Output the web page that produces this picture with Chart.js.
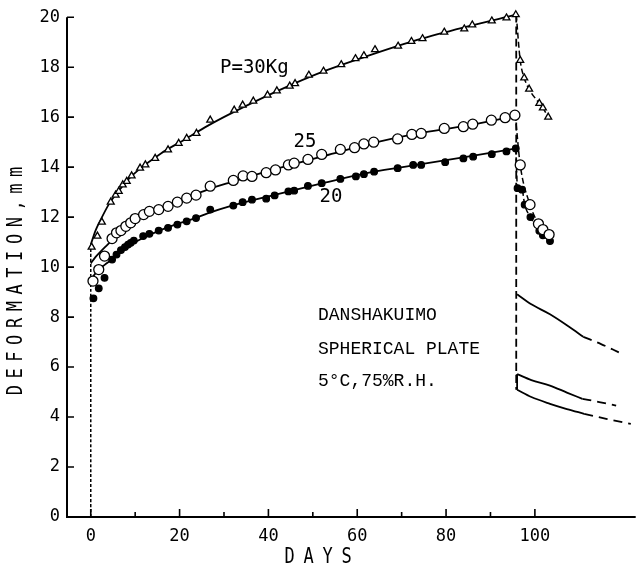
<!DOCTYPE html>
<html><head><meta charset="utf-8">
<script src="https://cdn.jsdelivr.net/npm/chart.js@4.4.1/dist/chart.umd.min.js"></script>
<style>html,body{margin:0;padding:0;background:#fff;}#wrap{width:642px;height:577px;}</style>
</head><body><div id="wrap"><canvas id="c" width="642" height="577"></canvas></div>
<script>
// ---- axis ticks / titles ----
const xTicks = [0, 20, 40, 60, 80, 100];
const xMinorTicks = [10, 30, 50, 70, 90];
const yTicks = [0, 2, 4, 6, 8, 10, 12, 14, 16, 18, 20];
const xTitle = 'DAYS';
const yTitle = 'DEFORMATION,mm';

// ---- P = 30 kg (open triangles) ----
const days30 = [0.2,1.5,2.5,4.5,5.6,6.3,7.2,8.1,9.2,11.1,12.3,14.5,17.4,19.8,21.6,23.8,26.9,32.3,34.2,36.6,39.8,41.9,44.8,46.0,49.1,52.4,56.4,59.6,61.5,64.0,69.2,72.2,74.7,79.6,84.1,85.9,90.3,93.6,95.7];
const def30  = [10.8,11.24,11.8,12.6,12.88,13.03,13.29,13.43,13.65,13.96,14.09,14.35,14.69,14.95,15.15,15.35,15.88,16.28,16.48,16.64,16.88,17.05,17.24,17.34,17.68,17.84,18.1,18.34,18.46,18.7,18.84,19.03,19.14,19.4,19.53,19.69,19.85,19.97,20.1];
const recDays30 = [96.7,97.6,98.7,101.0,101.8,103.0];
const recDef30  = [18.27,17.57,17.12,16.55,16.37,16.0];

// ---- P = 25 kg (open circles) ----
const days25 = [0.5,1.8,3.1,4.8,5.8,6.8,7.9,9.0,10.0,11.9,13.2,15.3,17.4,19.5,21.6,23.7,26.9,32.1,34.3,36.3,39.5,41.6,44.5,45.8,48.9,52.0,56.2,59.4,61.5,63.7,69.1,72.3,74.4,79.6,83.9,86.0,90.2,93.3,95.5];
const def25  = [9.44,9.9,10.44,11.14,11.37,11.46,11.63,11.77,11.94,12.1,12.23,12.3,12.43,12.6,12.76,12.88,13.24,13.47,13.65,13.63,13.78,13.89,14.09,14.16,14.31,14.51,14.71,14.78,14.93,15.0,15.13,15.31,15.35,15.55,15.62,15.72,15.88,15.98,16.08];
const recDays25 = [96.7,98.9,100.8,101.8,103.2];
const recDef25  = [14.09,12.5,11.73,11.5,11.3];

// ---- P = 20 kg (filled circles) ----
const days20 = [0.6,1.8,3.1,4.8,5.8,6.8,7.7,8.4,9.0,9.7,11.8,13.2,15.3,17.4,19.5,21.6,23.7,26.9,32.1,34.2,36.3,39.5,41.4,44.5,45.8,48.9,52.0,56.2,59.7,61.5,63.8,69.1,72.6,74.4,79.8,83.9,86.1,90.3,93.6,95.7];
const def20  = [8.75,9.15,9.57,10.3,10.5,10.68,10.8,10.9,10.97,11.06,11.24,11.33,11.46,11.57,11.7,11.83,11.96,12.3,12.46,12.6,12.7,12.74,12.87,13.03,13.06,13.25,13.36,13.53,13.63,13.72,13.82,13.96,14.09,14.09,14.2,14.35,14.42,14.52,14.63,14.75];
const recDays20 = [96.1,97.1,97.7,99.0,101.0,101.8,103.4];
const recDef20  = [13.16,13.1,12.5,12.0,11.45,11.27,11.04];

// ---- fitted creep curves (solid) ----
const fitDays30 = [0,1.05,2.1,4.2,6.3,8.4,10.5,15.8,21.1,26.3,31.6,42.1,52.7,63.2,73.7,84.2,95.8];
const fitDef30  = [10.9,11.45,11.85,12.55,13.05,13.5,13.85,14.55,15.1,15.65,16.15,17.05,17.85,18.5,19.1,19.6,20.1];
const fitDays25 = [0,1.05,2.1,3.2,4.7,6.3,8.4,10.5,13.7,16.8,21.1,26.3,31.6,42.1,52.7,63.2,73.7,84.2,95.8];
const fitDef25  = [10.15,10.4,10.6,10.8,11.06,11.35,11.65,11.9,12.15,12.4,12.72,13.1,13.4,13.95,14.45,14.95,15.35,15.65,16.05];
const fitDays20 = [0,1.05,2.1,3.2,4.7,6.3,9.0,11.6,15.3,19.0,23.7,26.3,31.6,42.1,52.7,63.2,73.7,84.2,95.8];
const fitDef20  = [9.5,9.75,9.95,10.1,10.3,10.55,10.9,11.15,11.45,11.7,11.97,12.15,12.45,12.92,13.38,13.8,14.1,14.4,14.75];

// ---- loading / unloading verticals ----
const loadDays = [0, 0];
const loadDef  = [0, 10.9];
const unloadDays = [95.8, 95.8];
const unloadDef  = [20.1, 5.09];

// ---- recovery curves after unloading (solid part + dashed extension) ----
const rcDaysA  = [96.0,99.2,103.4,107.7,110.9];  const rcDefA  = [8.91,8.51,8.11,7.61,7.21];
const rcDaysAx = [110.9,114.9,118.9];            const rcDefAx = [7.21,6.92,6.59];
const rcDaysB  = [96.0,99.2,103.4,107.2,110.7];  const rcDefB  = [5.72,5.48,5.26,4.98,4.73];
const rcDaysBx = [110.7,114.5,118.3];            const rcDefBx = [4.73,4.6,4.46];
const rcDaysC  = [96.0,99.2,103.4,107.2,111.1];  const rcDefC  = [5.09,4.8,4.53,4.32,4.13];
const rcDaysCx = [111.1,116.3,121.6];            const rcDefCx = [4.13,3.92,3.73];

const xy = (d, v) => d.map((x, i) => ({x: x, y: v[i]}));

function marks(d, v, style, radius, fill) {
  return {data: xy(d, v), showLine: false, pointStyle: style, pointRadius: radius,
    pointBackgroundColor: fill, pointBorderColor: '#000', pointBorderWidth: 1.3, clip: false};
}
function line(d, v, width, dash) {
  return {data: xy(d, v), showLine: true, pointRadius: 0, borderColor: '#000',
    borderWidth: width, borderDash: dash || [], cubicInterpolationMode: 'monotone', clip: false};
}

const datasets = [
  marks(days30, def30, 'triangle', 4, '#fff'),
  marks(recDays30, recDef30, 'triangle', 4, '#fff'),
  marks(days25, def25, 'circle', 5, '#fff'),
  marks(recDays25, recDef25, 'circle', 5, '#fff'),
  marks(days20, def20, 'circle', 3.3, '#000'),
  marks(recDays20, recDef20, 'circle', 3.3, '#000'),
  line(fitDays30, fitDef30, 1.8),
  line(fitDays25, fitDef25, 1.8),
  line(fitDays20, fitDef20, 1.8),
  line([95.8].concat(recDays30), [20.1].concat(recDef30), 1.5, [6, 3]),
  line([95.6].concat(recDays25), [16.08].concat(recDef25), 1.5, [6, 3]),
  line([95.7].concat(recDays20), [14.75].concat(recDef20), 1.5, [6, 3]),
  line(loadDays, loadDef, 1.5, [3, 2]),
  line(unloadDays, unloadDef, 1.8, [8, 4]),
  line(rcDaysA, rcDefA, 1.8), line(rcDaysAx, rcDefAx, 1.8, [9, 6]),
  line(rcDaysB, rcDefB, 1.8), line(rcDaysBx, rcDefBx, 1.8, [9, 6]),
  line(rcDaysC, rcDefC, 1.8), line(rcDaysCx, rcDefCx, 1.8, [9, 6]),
  line([96.0, 96.0], [5.72, 5.09], 1.8)
];

function spacedText(ctx, text, cx, cy, pitch, rot, stretch) {
  ctx.save();
  ctx.translate(cx, cy);
  ctx.rotate(rot);
  ctx.scale(1, stretch);
  ctx.textAlign = 'center';
  ctx.textBaseline = 'middle';
  const n = text.length;
  for (let i = 0; i < n; i++) {
    ctx.fillText(text[i], (i - (n - 1) / 2) * pitch, 0);
  }
  ctx.restore();
}

const axesPlugin = {
  id: 'axesAndText',
  afterDraw(chart) {
    const ctx = chart.ctx, a = chart.chartArea;
    const xs = chart.scales.x, ys = chart.scales.y;
    ctx.save();
    ctx.strokeStyle = '#000';
    ctx.lineWidth = 2;
    ctx.beginPath();
    ctx.moveTo(a.left, a.top); ctx.lineTo(a.left, a.bottom); ctx.lineTo(a.right, a.bottom);
    ctx.stroke();
    ctx.lineWidth = 1.6;
    ctx.beginPath();
    yTicks.forEach(v => { const p = ys.getPixelForValue(v); ctx.moveTo(a.left, p); ctx.lineTo(a.left + 7, p); });
    xTicks.forEach(v => { const p = xs.getPixelForValue(v); ctx.moveTo(p, a.bottom); ctx.lineTo(p, a.bottom - 8); });
    xMinorTicks.forEach(v => { const p = xs.getPixelForValue(v); ctx.moveTo(p, a.bottom); ctx.lineTo(p, a.bottom - 5); });
    ctx.stroke();
    ctx.fillStyle = '#000';
    ctx.textBaseline = 'middle';
    ctx.textAlign = 'left';
    ctx.font = '19px "DejaVu Sans Mono"';
    ctx.fillText('P=30Kg', 220, 68);
    ctx.textAlign = 'center';
    ctx.fillText('25', 305, 142);
    ctx.fillText('20', 331, 197);
    ctx.textAlign = 'left';
    ctx.font = '18px "Liberation Mono"';
    ctx.fillText('DANSHAKUIMO', 318, 315);
    ctx.fillText('SPHERICAL PLATE', 318, 349);
    ctx.fillText('5°C,75%R.H.', 318, 381);
    ctx.font = '17px "DejaVu Sans Mono"';
    spacedText(ctx, xTitle, 318, 557, 19, 0, 1.25);
    spacedText(ctx, yTitle, 17, 281, 16.8, -Math.PI / 2, 1.2);
    ctx.restore();
  }
};

new Chart(document.getElementById('c'), {
  type: 'scatter',
  data: {datasets: datasets},
  options: {
    responsive: false, animation: false,
    layout: {padding: {top: 15, right: 0, left: 0, bottom: 0}},
    plugins: {legend: {display: false}, tooltip: {enabled: false}},
    scales: {
      x: {
        type: 'linear', min: -5.35, max: 122.7,
        afterBuildTicks: s => { s.ticks = xTicks.map(v => ({value: v})); },
        afterFit: s => { s.height = 60; },
        grid: {display: false, drawTicks: false}, border: {display: false},
        ticks: {color: '#000', padding: 9, maxRotation: 0, font: {family: 'DejaVu Sans Mono', size: 17}},
        title: {display: false}
      },
      y: {
        type: 'linear', min: 0, max: 20,
        afterBuildTicks: s => { s.ticks = yTicks.map(v => ({value: v})); },
        afterFit: s => { s.width = 67; },
        grid: {display: false, drawTicks: false}, border: {display: false},
        ticks: {color: '#000', padding: 7, font: {family: 'DejaVu Sans Mono', size: 17}},
        title: {display: false}
      }
    }
  },
  plugins: [axesPlugin]
});
</script></body></html>
